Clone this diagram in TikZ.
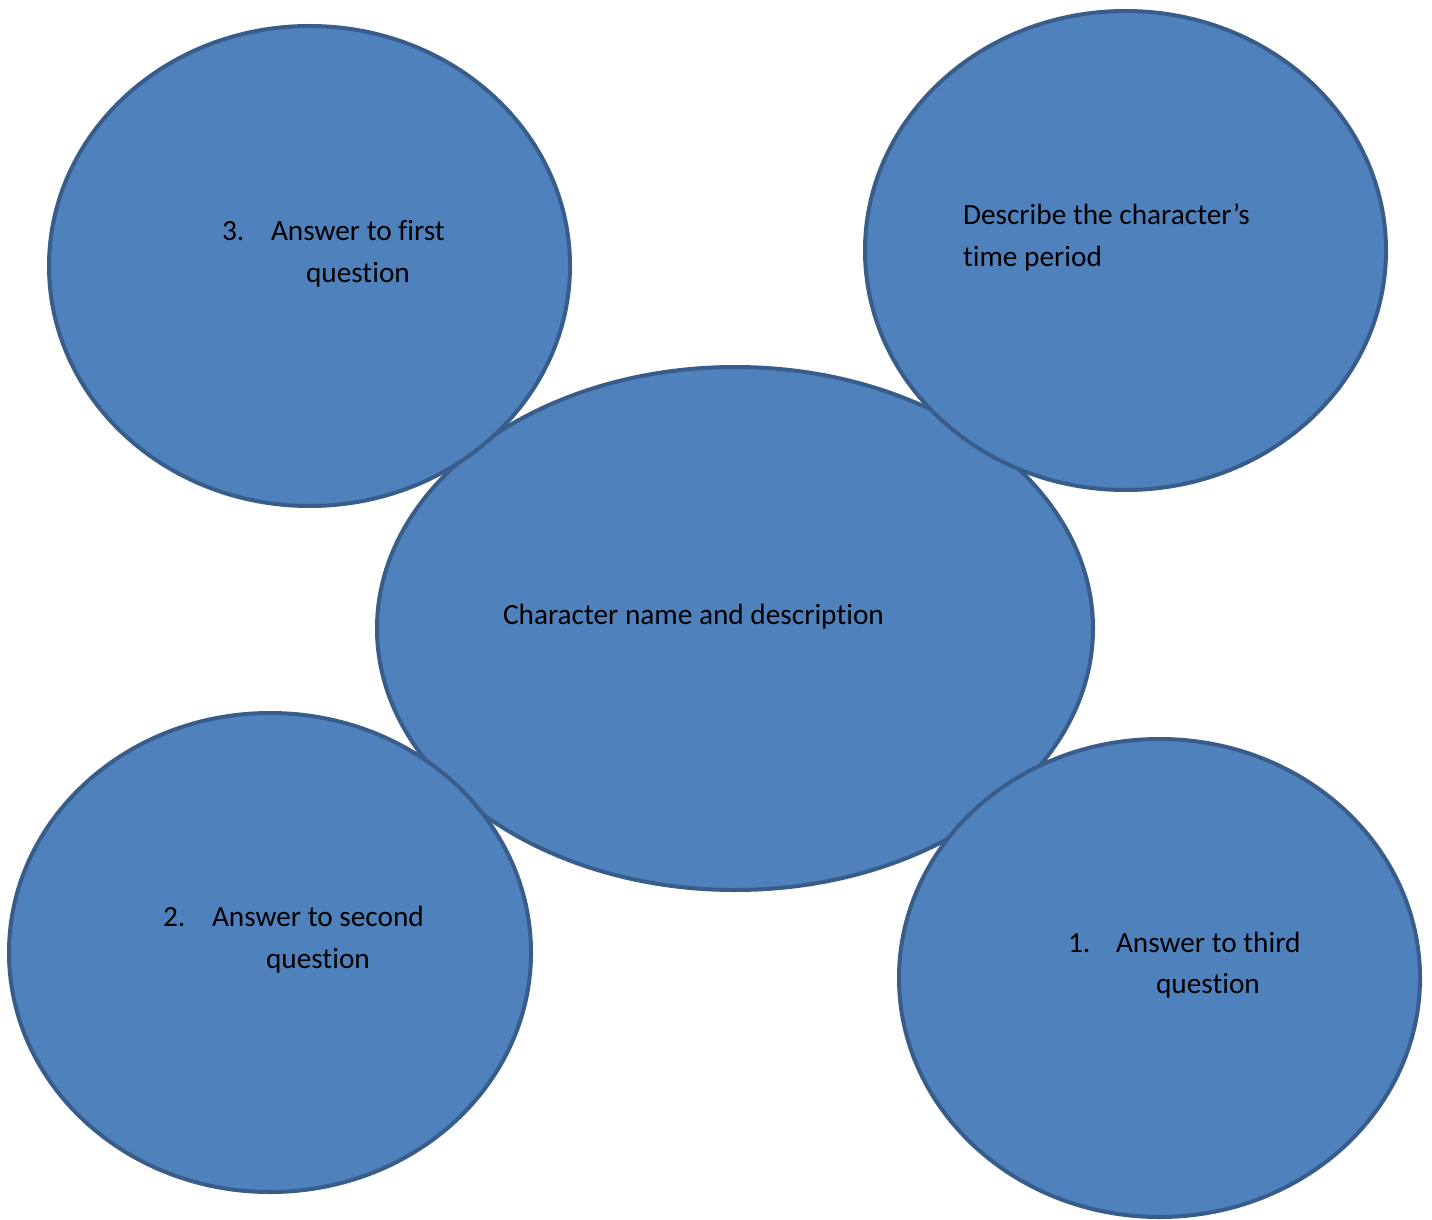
\documentclass[tikz,border=0pt]{standalone}
\usepackage{fontspec}
\setmainfont{Carlito}[Ligatures=NoCommon]
\usetikzlibrary{shapes.geometric}
\definecolor{fillblue}{HTML}{4F81BD}
\definecolor{edgeblue}{HTML}{385D8A}
\begin{document}
\begin{tikzpicture}[x=1pt,y=-1pt,
  bubble/.style={ellipse, draw=edgeblue, fill=fillblue, line width=4pt, inner sep=0pt, outer sep=0pt},
  txt/.style={anchor=base west, inner sep=0pt, outer sep=0pt, font=\fontsize{29.3}{42}\selectfont, text=black}]
\useasboundingbox (0,0) rectangle (1432,1220);
\node[bubble, minimum width=716, minimum height=523] (mid) at (735,628.5) {};
\node[bubble, minimum width=521, minimum height=480] (tl) at (309.5,266) {};
\node[bubble, minimum width=521, minimum height=479] (tr) at (1125.5,250.5) {};
\node[bubble, minimum width=522, minimum height=479] (bl) at (270,952.5) {};
\node[bubble, minimum width=521, minimum height=478] (br) at (1159.5,978) {};
% texts
\node[txt] (tlnum) at (222,240) {3.};
\node[txt] (tla) at (271,240) {Answer to first};
\node[txt] (tlb) at (306,282) {question};
\node[txt] (tra) at (963,224) {Describe the character’s};
\node[txt] (trb) at (963,266) {time period};
\node[txt] (mida) at (503,624) {Character name and description};
\node[txt] (blnum) at (163,926) {2.};
\node[txt] (bla) at (212,926) {Answer to second};
\node[txt] (blb) at (266,968) {question};
\node[txt] (brnum) at (1068,952) {1.};
\node[txt] (bra) at (1116,952) {Answer to third};
\node[txt] (brb) at (1156,993) {question};
\end{tikzpicture}
\end{document}
